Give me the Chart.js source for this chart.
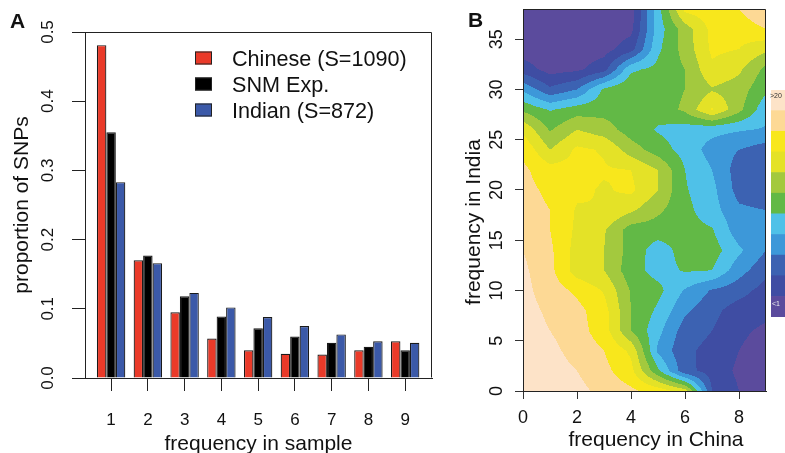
<!DOCTYPE html>
<html>
<head>
<meta charset="utf-8">
<script src="https://cdn.jsdelivr.net/npm/chart.js@4.4.1/dist/chart.umd.min.js"></script>
<style>
  html, body { margin: 0; padding: 0; background: #fff; overflow: hidden; width: 785px; height: 453px; }
  #wrapA { position: absolute; left: 0; top: 0; width: 440px; height: 453px; }
  #wrapB { position: absolute; left: 440px; top: 0; width: 330px; height: 453px; }
  #wrapK { position: absolute; left: 771px; top: 90px; width: 14px; height: 227px; }
  .kl { position: absolute; font: 7px "Liberation Sans", Arial, sans-serif; }
</style>
</head>
<body>
<div id="wrapA"><canvas id="chartA"></canvas></div>
<div id="wrapB"><canvas id="chartB"></canvas></div>
<div id="wrapK"><canvas id="chartK"></canvas></div>
<div class="kl" style="left:770px;top:92px;color:#333">&gt;20</div>
<div class="kl" style="left:772px;top:300px;color:#eee">&lt;1</div>
<script>
// panel A: site frequency spectrum
const freqBins = [1, 2, 3, 4, 5, 6, 7, 8, 9];
const chineseProp = [0.481, 0.170, 0.095, 0.057, 0.040, 0.035, 0.034, 0.040, 0.053];
const snmProp     = [0.355, 0.177, 0.118, 0.089, 0.072, 0.060, 0.051, 0.045, 0.040];
const indianProp  = [0.283, 0.166, 0.123, 0.102, 0.088, 0.075, 0.063, 0.053, 0.051];
const seriesNames = ['Chinese (S=1090)', 'SNM Exp.', 'Indian (S=872)'];
const yTicksA = [0, 0.1, 0.2, 0.3, 0.4, 0.5];

// panel B: joint frequency surface (contour level per grid node)
const chinaFreq = [0, 1, 2, 3, 4, 5, 6, 7, 8, 9];
const indiaFreq = [38, 36, 34, 32, 30, 28, 26, 24, 22, 20, 18, 16, 14, 12, 10, 8, 6, 4, 2, 0];
const densityGrid = [
  [0.2, 0.2, 0.2, 0.3, 0.5, 4.6, 8.3, 8.6, 9.0, 10.0],
  [0.2, 0.2, 0.2, 0.3, 0.7, 4.5, 6.5, 8.3, 8.4, 9.0],
  [0.5, 0.3, 0.4, 0.6, 1.6, 4.8, 6.4, 8.2, 8.0, 7.2],
  [1.5, 0.6, 0.8, 1.6, 4.8, 5.3, 6.0, 7.8, 7.2, 5.7],
  [3.8, 2.2, 3.0, 5.2, 5.9, 5.5, 6.0, 6.9, 6.5, 5.2],
  [5.8, 4.9, 5.5, 5.6, 5.5, 5.4, 6.2, 8.1, 6.3, 4.3],
  [7.8, 5.9, 7.0, 6.5, 5.5, 4.9, 4.5, 4.3, 4.1, 3.9],
  [8.8, 7.0, 8.2, 7.9, 6.5, 5.5, 4.6, 3.6, 3.0, 2.5],
  [9.2, 8.4, 8.3, 8.1, 8.0, 7.0, 5.0, 4.0, 2.5, 2.2],
  [9.3, 8.8, 8.2, 7.9, 8.2, 7.0, 5.1, 4.3, 2.6, 2.2],
  [9.4, 9.0, 7.9, 8.0, 7.2, 6.2, 5.3, 4.4, 3.2, 3.0],
  [9.6, 9.0, 7.8, 7.1, 5.5, 5.5, 5.4, 5.1, 3.4, 3.2],
  [10.0, 9.2, 7.6, 7.0, 5.6, 4.5, 5.4, 5.5, 4.2, 3.0],
  [10.2, 9.3, 7.5, 7.0, 5.4, 4.6, 5.1, 5.0, 3.4, 2.3],
  [10.3, 9.5, 8.8, 7.9, 5.9, 5.3, 3.9, 2.9, 2.4, 1.6],
  [10.4, 9.8, 9.3, 8.4, 6.0, 4.8, 3.2, 2.3, 1.5, 1.3],
  [10.5, 10.0, 9.4, 8.5, 6.0, 4.3, 2.5, 2.0, 1.2, 0.8],
  [10.6, 10.3, 9.6, 9.0, 7.8, 3.8, 2.2, 1.7, 1.0, 0.5],
  [10.7, 10.5, 10.0, 9.3, 8.3, 5.2, 2.3, 1.6, 0.8, 0.4],
  [10.8, 10.6, 10.3, 9.7, 9.2, 8.6, 7.5, 2.0, 1.0, 0.5]
];
const levelColors = ['#5b4b9d', '#3f4da3', '#3c62b2', '#3d98d9', '#4fc1e8', '#62b946',
                     '#a3c93e', '#e4e227', '#f8e71c', '#fdd995', '#fde3c8'];
const xTicksB = [0, 2, 4, 6, 8];
const yTicksB = [0, 5, 10, 15, 20, 25, 30, 35];

const FONT = '"Liberation Sans", Arial, Helvetica, sans-serif';
const INK = '#111';

function hText(ctx, s, x, y, size, align, bold) {
  ctx.save();
  ctx.font = (bold ? 'bold ' : '') + size + 'px ' + FONT;
  ctx.fillStyle = INK;
  ctx.textAlign = align || 'center';
  ctx.textBaseline = 'alphabetic';
  ctx.fillText(s, x, y);
  ctx.restore();
}
// rotated text reading upward; x is the baseline, y the centre
function vText(ctx, s, x, y, size) {
  ctx.save();
  ctx.translate(x, y);
  ctx.rotate(-Math.PI / 2);
  ctx.font = size + 'px ' + FONT;
  ctx.fillStyle = INK;
  ctx.textAlign = 'center';
  ctx.textBaseline = 'alphabetic';
  ctx.fillText(s, 0, 0);
  ctx.restore();
}
function boxLines(ctx, a) {
  ctx.save();
  ctx.strokeStyle = '#222';
  ctx.lineWidth = 1;
  ctx.beginPath();
  ctx.moveTo(Math.round(a.left) + 0.5, Math.round(a.top) + 0.5);
  ctx.lineTo(Math.round(a.right) - 0.5, Math.round(a.top) + 0.5);
  ctx.lineTo(Math.round(a.right) - 0.5, Math.round(a.bottom) - 0.5);
  ctx.stroke();
  ctx.restore();
}

Chart.defaults.font.family = FONT;
Chart.defaults.animation = false;

const panelA = {
  id: 'panelA',
  afterDraw(chart) {
    const ctx = chart.ctx, a = chart.chartArea;
    const xs = chart.scales.x, ys = chart.scales.y;
    boxLines(ctx, a);
    yTicksA.forEach(v => vText(ctx, v.toFixed(1), 53, ys.getPixelForValue(v), 17));
    freqBins.forEach(v => hText(ctx, String(v), xs.getPixelForValue(v), 425, 17));
    vText(ctx, 'proportion of SNPs', 28, (a.top + a.bottom) / 2, 21);
    hText(ctx, 'frequency in sample', (a.left + a.right) / 2, 450, 21);
    hText(ctx, 'A', 10, 28, 21, 'left', true);
    // legend
    chart.data.datasets.forEach((ds, i) => {
      const cy = 58 + i * 26;
      ctx.save();
      ctx.fillStyle = ds.backgroundColor;
      ctx.fillRect(195, cy - 6.5, 17, 13);
      ctx.strokeStyle = '#222';
      ctx.strokeRect(195.5, cy - 6, 16, 12);
      ctx.restore();
      hText(ctx, ds.label, 232, cy + 8, 21.6, 'left');
    });
  }
};

new Chart(document.getElementById('chartA'), {
  type: 'bar',
  data: {
    datasets: [
      { label: seriesNames[0], data: freqBins.map((f, i) => ({ x: f, y: chineseProp[i] })), backgroundColor: '#ea3a29' },
      { label: seriesNames[1], data: freqBins.map((f, i) => ({ x: f, y: snmProp[i] })), backgroundColor: '#000000' },
      { label: seriesNames[2], data: freqBins.map((f, i) => ({ x: f, y: indianProp[i] })), backgroundColor: '#3b59a8' }
    ]
  },
  options: {
    responsive: true,
    maintainAspectRatio: false,
    layout: { padding: { left: 0, top: 32, right: 8, bottom: 0 } },
    datasets: { bar: { borderColor: '#1a1a1a', borderWidth: 1.2, categoryPercentage: 0.773, barPercentage: 1 } },
    plugins: { legend: { display: false }, tooltip: { enabled: false } },
    scales: {
      x: {
        type: 'linear', min: 0.29, max: 9.73, offset: false,
        afterBuildTicks: s => { s.ticks = freqBins.map(v => ({ value: v })); },
        afterFit: s => { s.height = 75; },
        ticks: { display: false },
        grid: { offset: false, drawOnChartArea: false, drawTicks: true, tickLength: 13, color: '#222' },
        border: { color: '#222', width: 1 }
      },
      y: {
        type: 'linear', min: 0, max: 0.5,
        afterBuildTicks: s => { s.ticks = yTicksA.map(v => ({ value: v })); },
        afterFit: s => { s.width = 85; },
        ticks: { display: false },
        grid: { drawOnChartArea: false, drawTicks: true, tickLength: 13, color: '#222' },
        border: { color: '#222', width: 1 }
      }
    }
  },
  plugins: [panelA]
});

// value of the surface at a data position, bilinear between grid nodes
function surfaceAt(xv, yv) {
  const nx = chinaFreq.length, ny = indiaFreq.length;
  const step = indiaFreq[0] - indiaFreq[1];
  let i = Math.floor(xv - chinaFreq[0]);
  i = Math.max(0, Math.min(nx - 2, i));
  const tx = Math.max(0, Math.min(1, xv - chinaFreq[i]));
  // rows run from top (largest) to bottom
  let r = (indiaFreq[0] - yv) / step;
  let j = Math.max(0, Math.min(ny - 2, Math.floor(r)));
  const ty = Math.max(0, Math.min(1, r - j));
  const g = densityGrid;
  const top = g[j][i] * (1 - tx) + g[j][i + 1] * tx;
  const bot = g[j + 1][i] * (1 - tx) + g[j + 1][i + 1] * tx;
  return top * (1 - ty) + bot * ty;
}
const rgbLevels = levelColors.map(h => [parseInt(h.slice(1, 3), 16), parseInt(h.slice(3, 5), 16), parseInt(h.slice(5, 7), 16)]);

const panelB = {
  id: 'panelB',
  beforeDraw(chart) {
    const ctx = chart.ctx, a = chart.chartArea;
    const xs = chart.scales.x, ys = chart.scales.y;
    const L = Math.round(a.left), T = Math.round(a.top);
    const W = Math.round(a.right) - L, H = Math.round(a.bottom) - T;
    const off = document.createElement('canvas');
    off.width = W; off.height = H;
    const octx = off.getContext('2d');
    const img = octx.createImageData(W, H);
    for (let py = 0; py < H; py++) {
      const yv = ys.getValueForPixel(T + py + 0.5);
      for (let px = 0; px < W; px++) {
        const xv = xs.getValueForPixel(L + px + 0.5);
        let lv = Math.floor(surfaceAt(xv, yv));
        lv = Math.max(0, Math.min(levelColors.length - 1, lv));
        const c = rgbLevels[lv], k = (py * W + px) * 4;
        img.data[k] = c[0]; img.data[k + 1] = c[1]; img.data[k + 2] = c[2]; img.data[k + 3] = 255;
      }
    }
    octx.putImageData(img, 0, 0);
    ctx.drawImage(off, L, T);
  },
  afterDraw(chart) {
    const ctx = chart.ctx, a = chart.chartArea;
    const xs = chart.scales.x, ys = chart.scales.y;
    boxLines(ctx, a);
    yTicksB.forEach(v => vText(ctx, String(v), 62, ys.getPixelForValue(v), 18));
    xTicksB.forEach(v => hText(ctx, String(v), xs.getPixelForValue(v), 423, 18));
    vText(ctx, 'frequency in India', 40, 222, 21);
    hText(ctx, 'frequency in China', 216, 446, 21);
    hText(ctx, 'B', 28, 27, 21, 'left', true);
  }
};

new Chart(document.getElementById('chartB'), {
  type: 'scatter',
  data: { datasets: [{ data: [], pointRadius: 0 }] },
  options: {
    responsive: true,
    maintainAspectRatio: false,
    layout: { padding: { left: 0, top: 9, right: 4, bottom: 0 } },
    plugins: { legend: { display: false }, tooltip: { enabled: false } },
    scales: {
      x: {
        type: 'linear', min: chinaFreq[0], max: chinaFreq[chinaFreq.length - 1],
        afterBuildTicks: s => { s.ticks = xTicksB.map(v => ({ value: v })); },
        afterFit: s => { s.height = 62; },
        ticks: { display: false },
        grid: { drawOnChartArea: false, drawTicks: true, tickLength: 8, color: '#333' },
        border: { color: '#222', width: 1 }
      },
      y: {
        type: 'linear', min: 0, max: indiaFreq[0],
        afterBuildTicks: s => { s.ticks = yTicksB.map(v => ({ value: v })); },
        afterFit: s => { s.width = 83; },
        ticks: { display: false },
        grid: { drawOnChartArea: false, drawTicks: true, tickLength: 8, color: '#333' },
        border: { color: '#222', width: 1 }
      }
    }
  },
  plugins: [panelB]
});

// colour key
new Chart(document.getElementById('chartK'), {
  type: 'bar',
  data: {
    labels: ['key'],
    datasets: levelColors.map(c => ({ data: [1], backgroundColor: c, borderWidth: 0 }))
  },
  options: {
    responsive: true,
    maintainAspectRatio: false,
    layout: { padding: 0 },
    datasets: { bar: { categoryPercentage: 1, barPercentage: 1 } },
    plugins: { legend: { display: false }, tooltip: { enabled: false } },
    scales: {
      x: { stacked: true, display: false },
      y: { stacked: true, display: false, min: 0, max: levelColors.length }
    }
  }
});
</script>
</body>
</html>
